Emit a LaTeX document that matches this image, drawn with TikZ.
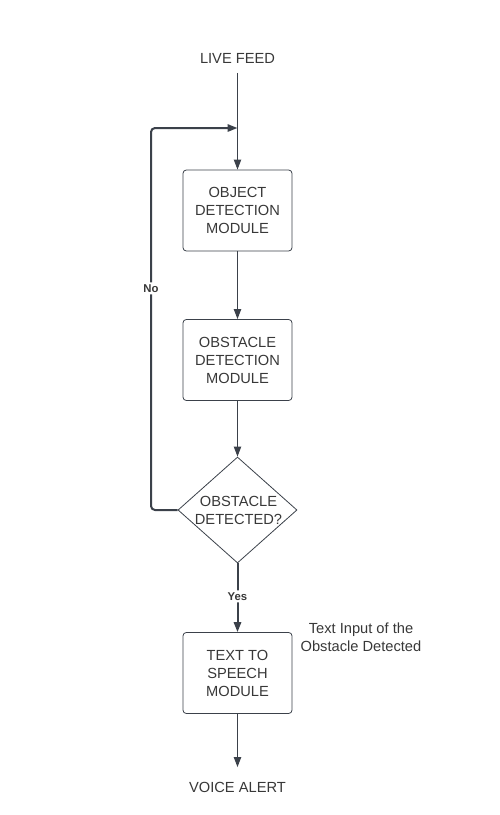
\documentclass[tikz,border=0pt]{standalone}
\usepackage{fontspec}
\setmainfont{Liberation Sans}
\usetikzlibrary{shapes.geometric,arrows.meta}
\definecolor{linegray}{HTML}{3B414A}
\definecolor{textgray}{HTML}{383838}

\begin{document}
\begin{tikzpicture}[x=0.75pt,y=-0.75pt]
    \tikzstyle{every node}+=[font=\fontsize{11}{13.5}\selectfont, text=textgray]
    \tikzstyle{block}=[draw=linegray, line width=0.6pt, rounded corners=2.5pt, minimum width=81.75pt, minimum height=60.75pt, align=center]
    \tikzstyle{decision}=[draw=linegray, line width=0.6pt, diamond, minimum width=89.25pt, minimum height=79.5pt, inner sep=0pt]
    \tikzstyle{flow}=[draw=linegray, line width=0.8pt, -{Triangle[length=7.5pt,width=5.5pt]}]
    \tikzstyle{thickflow}=[flow, line width=1.5pt, rounded corners=3pt]
    \tikzstyle{answer}=[font=\fontsize{8.5}{10}\selectfont\bfseries, fill=white, inner sep=1.5pt]
    \useasboundingbox (0,0) rectangle (500,815);
    % nodes
    \node (feed) at (237.5,58) {LIVE FEED};
    \node[block] (objdet) at (237.5,210.5) {OBJECT\\DETECTION\\MODULE};
    \node[block] (obsdet) at (237.5,360) {OBSTACLE\\DETECTION\\MODULE};
    \node[decision] (check) at (237.5,510) {};
    \node[align=center] (checktext) at (238.5,510) {OBSTACLE\\DETECTED?};
    \node[block] (speech) at (237.5,673) {TEXT TO\\SPEECH\\MODULE};
    \node[align=center] (note) at (361,637) {Text Input of the\\Obstacle Detected};
    \node (alert) at (237.5,787) {VOICE ALERT};
    \coordinate (merge) at (237.5,128);
    \coordinate (looptop) at (151,128);
    \coordinate (loopbot) at (151,510);
    % connectors
    \draw[flow, shorten <=3.75pt] (feed.south) -- (objdet.north);
    \draw[flow] (objdet.south) -- (obsdet.north);
    \draw[flow] (obsdet.south) -- (check.north);
    \draw[thickflow] (check.west) -- (loopbot) -- node[answer, pos=0.58] {No} (looptop) -- (merge);
    \draw[thickflow] (check.south) -- node[answer, pos=0.48] {Yes} (speech.north);
    \draw[flow, shorten >=7.5pt] (speech.south) -- (alert.north);
\end{tikzpicture}
\end{document}
